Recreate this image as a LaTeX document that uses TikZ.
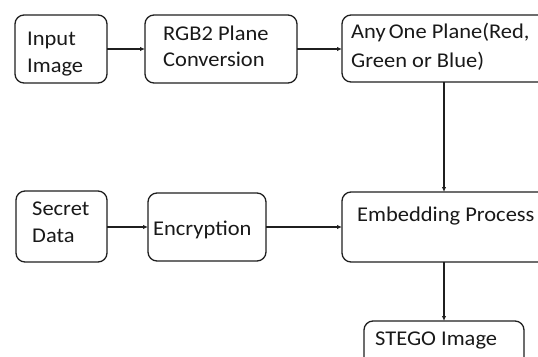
\documentclass[tikz,border=0pt]{standalone}
\usepackage{fontspec}
\setmainfont[FakeStretch=1.07]{Carlito}
\usetikzlibrary{arrows.meta}
\begin{document}
\begin{tikzpicture}[x=1pt,y=-1pt,
 box/.style={draw=black!88, line width=1.3pt, rounded corners=9pt, rectangle, inner sep=0pt, outer sep=0pt, anchor=north west},
 txt/.style={anchor=base west, inner sep=0pt, font=\fontsize{21}{25}\selectfont, text=black!90},
 arr/.style={draw=black!88, line width=1.3pt, -{Latex[length=5pt,width=4.5pt]}},
]
\useasboundingbox (0,0) rectangle (538,356);
\clip (0,0) rectangle (538,356);
\fill[white] (0,0) rectangle (538,356);
% boxes
\node[box, minimum width=92pt, minimum height=68pt] (inp) at (15,15) {};
\node[box, minimum width=152pt, minimum height=68pt] (rgb) at (145,15) {};
\node[box, minimum width=220pt, minimum height=67pt] (any) at (342,15) {};
\node[box, minimum width=91pt, minimum height=71pt] (sec) at (16,191) {};
\node[box, minimum width=118pt, minimum height=68pt] (enc) at (148,193) {};
\node[box, minimum width=220pt, minimum height=70pt] (emb) at (342,192) {};
\node[box, minimum width=160pt, minimum height=50pt] (ste) at (364,321) {};
% texts
\node[txt] (t1) at (27,45) {Input};
\node[txt] (t2) at (27,72.7) {Image};
\node[txt] (t3) at (163,40) {RGB2 Plane};
\node[txt] (t4) at (163,66.7) {Conversion};
\node[txt] (t5) at (351,38) {Any\hspace{-2pt} One Plane(Red,};
\node[txt] (t6) at (351,67) {Green or Blue)};
\node[txt] (t7) at (32,215) {Secret};
\node[txt] (t8) at (32,242) {Data};
\node[txt] (t9) at (153,235) {Encryption};
\node[txt] (t10) at (357,221.7) {Embedding Process};
\node[txt] (t11) at (375,345) {STEGO Image};
% connectors
\draw[arr] (inp.east) -- (inp.east -| rgb.west);
\draw[arr] (rgb.east) -- (rgb.east -| any.west);
\draw[arr] (sec.east |- enc.west) -- (enc.west);
\draw[arr] (enc.east) -- (enc.east -| emb.west);
\draw[arr] (any.south -| ste.north) -- (emb.north -| ste.north);
\draw[arr] (emb.south -| ste.north) -- (ste.north);
\end{tikzpicture}
\end{document}
